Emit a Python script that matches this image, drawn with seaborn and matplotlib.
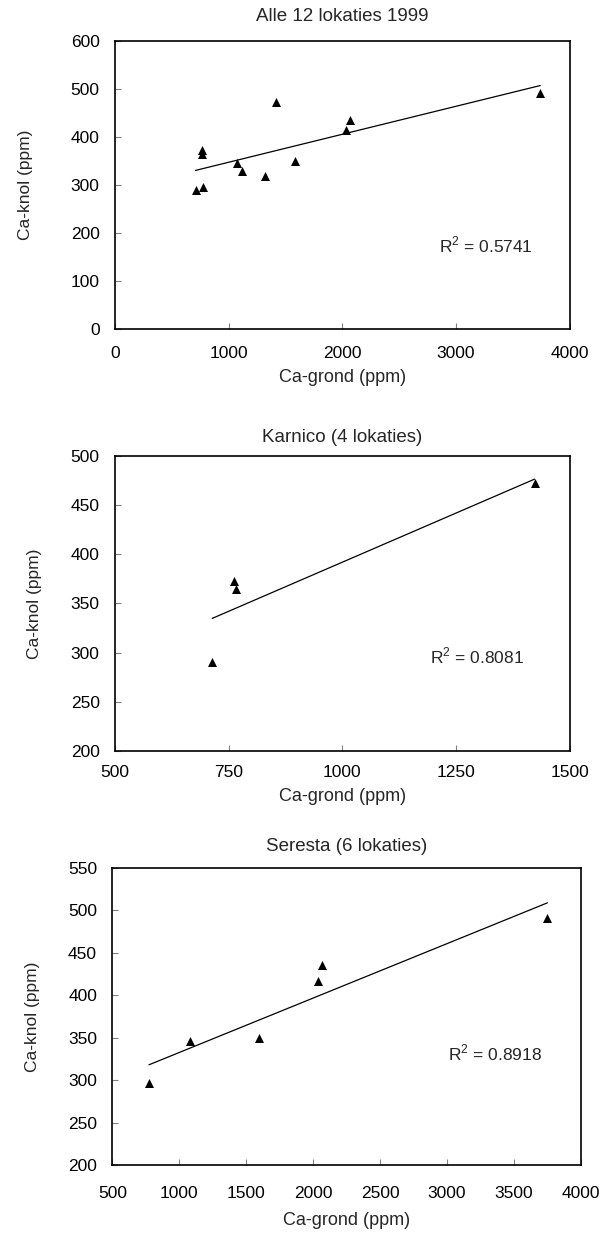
import matplotlib
matplotlib.use("Agg")
import matplotlib.pyplot as plt
import seaborn as sns
import numpy as np
import pandas as pd

# Ca in grond en knol per lokatie (ppm)
alle_grond = [709, 771, 762, 765, 1078, 1116, 1319, 1421, 1588, 2037, 2066, 3742]
alle_knol = [290, 295, 373, 365, 345, 328, 318, 473, 350, 415, 435, 490]

karnico_grond = [714, 762, 767, 1423]
karnico_knol = [290, 373, 365, 473]

seresta_grond = [774, 1083, 1598, 2039, 2069, 3751]
seresta_knol = [296, 346, 350, 417, 435, 491]

titels = ["Alle 12 lokaties 1999", "Karnico (4 lokaties)", "Seresta (6 lokaties)"]
r2_teksten = ["R$^2$ = 0.5741", "R$^2$ = 0.8081", "R$^2$ = 0.8918"]
xlims = [(0, 4000), (500, 1500), (500, 4000)]
ylims = [(0, 600), (200, 500), (200, 550)]
xticks = [np.arange(0, 4001, 1000), np.arange(500, 1501, 250), np.arange(500, 4001, 500)]
yticks = [np.arange(0, 601, 100), np.arange(200, 501, 50), np.arange(200, 551, 50)]

sns.set_style("white")
plt.rcParams['font.family'] = ['Liberation Sans', 'DejaVu Sans']
plt.rcParams['mathtext.fontset'] = 'custom'
plt.rcParams['mathtext.rm'] = 'Liberation Sans'

fig = plt.figure(figsize=(6.01, 12.39), dpi=100)
# posities van de drie assen (links, onder, breedte, hoogte)
posities = [
    [0.1913, 0.7342, 0.7563, 0.2331],
    [0.1913, 0.3939, 0.7563, 0.2381],
    [0.1869, 0.0597, 0.7793, 0.2400],
]
r2_pos = [(0.713, 0.292), (0.693, 0.32), (0.717, 0.377)]
titelpads = [14, 10, 12]
xtickpads = [12, 10, 15]
xlabelpads = [6, 6, 8]
ylabelpads = [27, 21, 20]

data = [(alle_grond, alle_knol), (karnico_grond, karnico_knol), (seresta_grond, seresta_knol)]

for i, (gx, ky) in enumerate(data):
    ax = fig.add_axes(posities[i])
    df = pd.DataFrame({"grond": gx, "knol": ky})
    sns.regplot(data=df, x="grond", y="knol", ax=ax, ci=None, truncate=True,
                marker="^", color="black",
                scatter_kws={"s": 42, "linewidths": 0, "alpha": 1},
                line_kws={"lw": 0.9, "color": "black"})
    ax.set_xlim(xlims[i])
    ax.set_ylim(ylims[i])
    ax.set_xticks(xticks[i])
    ax.set_yticks(yticks[i])
    ax.tick_params(bottom=True, left=True, direction="in", length=4, width=0.8,
                   color="#808080", labelsize=12.5, labelcolor="black")
    ax.tick_params(axis="x", pad=xtickpads[i])
    ax.tick_params(axis="y", pad=11)
    for sp in ax.spines.values():
        sp.set_color("black")
        sp.set_linewidth(1.2)
    ax.set_title(titels[i], fontsize=13.5, pad=titelpads[i])
    ax.set_xlabel("Ca-grond (ppm)", fontsize=13, labelpad=xlabelpads[i])
    ax.set_ylabel("Ca-knol (ppm)", fontsize=12.5, labelpad=ylabelpads[i])
    ax.text(r2_pos[i][0], r2_pos[i][1], r2_teksten[i], transform=ax.transAxes,
            fontsize=12.5, va="center", ha="left")

fig.savefig("out.png", dpi=100)
